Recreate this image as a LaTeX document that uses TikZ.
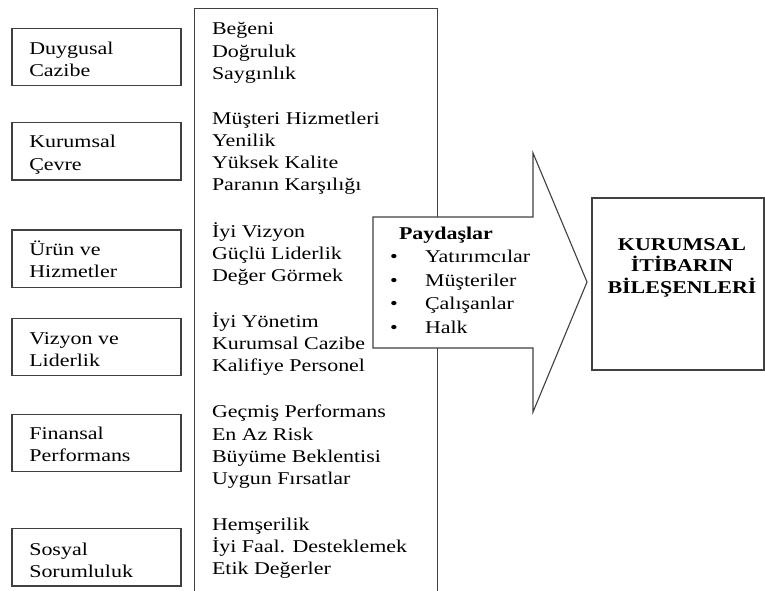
\documentclass[tikz,border=0pt]{standalone}
\usepackage{fontspec}
\setmainfont{Liberation Serif}
\newcommand\fl{\rule{0pt}{20pt}}
\begin{document}
\begin{tikzpicture}[x=1pt,y=-1pt,
  frame/.style={draw=black!75, line width=1.4pt},
  lbox/.style={frame, minimum width=169pt, minimum height=57pt, inner sep=0pt, outer sep=0pt},
  txt/.style={inner sep=0pt, outer sep=0pt, align=left, anchor=north west, font=\fontsize{18}{22.3}\selectfont, xscale=1.22},
  arrowline/.style={draw=black!75, line width=1.1pt, line join=miter, fill=white}
]
\useasboundingbox (0,0) rectangle (765,590);
% left boxes
\node[lbox] (b1) at (96.5,56.8) {};
\node[lbox, minimum height=57.3pt] (b2) at (96.5,151.35) {};
\node[lbox, minimum height=57.3pt] (b3) at (96.5,258.65) {};
\node[lbox] (b4) at (96.5,346.8) {};
\node[lbox, minimum height=57.4pt] (b5) at (96.5,443) {};
\node[lbox, minimum height=57.7pt] (b6) at (96.5,557.15) {};
\node[txt] (t1) at (29.3,34) {\fl Duygusal\\Cazibe};
\node[txt] (t2) at (29.3,127.7) {\fl Kurumsal\\Çevre};
\node[txt] (t3) at (29.3,235) {\fl Ürün ve\\Hizmetler};
\node[txt] (t4) at (29.3,324) {\fl Vizyon ve\\Liderlik};
\node[txt] (t5) at (29.3,419) {\fl Finansal\\Performans};
\node[txt] (t6) at (29.3,535) {\fl Sosyal\\Sorumluluk};
% big box
\draw[frame] (194.3,596) -- (194.3,8.3) -- (437.7,8.3) -- (437.7,596);
\node[txt] (g1) at (212,14.7) {\fl Beğeni\\Doğruluk\\Saygınlık};
\node[txt] (g2) at (212,104) {\fl Müşteri Hizmetleri\\Yenilik\\Yüksek Kalite\\Paranın Karşılığı};
\node[txt] (g3) at (212,217.3) {\fl İyi Vizyon\\Güçlü Liderlik\\Değer Görmek};
\node[txt] (g4) at (212,307.3) {\fl İyi Yönetim\\Kurumsal Cazibe\\Kalifiye Personel};
\node[txt] (g5) at (212,397.7) {\fl Geçmiş Performans\\En Az Risk\\Büyüme Beklentisi\\Uygun Fırsatlar};
\node[txt] (g6) at (212,510) {\fl Hemşerilik\\İyi Faal. Desteklemek\\Etik Değerler};
% arrow
\draw[arrowline] (373,217) -- (533,217) -- (533,153) -- (587,282) -- (533,412) -- (533,348) -- (373,348) -- cycle;
\node[txt, font=\fontsize{18}{23.5}\selectfont] (pd) at (390,219.3)
  {\fl\hspace*{7.4pt}\textbf{Paydaşlar}\\\makebox[28.7pt][l]{\textbullet}Yatırımcılar\\\makebox[28.7pt][l]{\textbullet}Müşteriler\\\makebox[28.7pt][l]{\textbullet}Çalışanlar\\\makebox[28.7pt][l]{\textbullet}Halk};
% right box
\node[frame, minimum width=172pt, minimum height=172pt, inner sep=0pt] (kb) at (678,284) {};
\node[txt, anchor=north, align=center, font=\fontsize{18}{21.7}\selectfont\bfseries] (kt) at (682,230)
  {\fl KURUMSAL\\İTİBARIN\\BİLEŞENLERİ};
\end{tikzpicture}
\end{document}
